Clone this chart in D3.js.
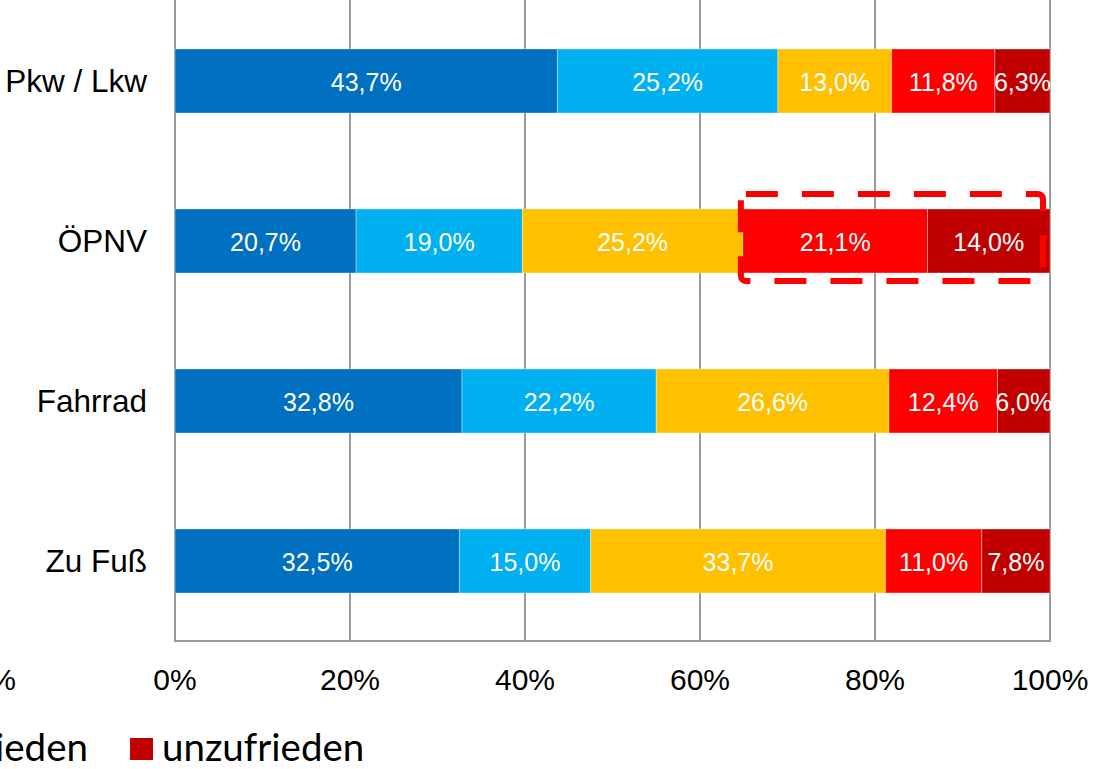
<!DOCTYPE html>
<html>
<head>
<meta charset="utf-8">
<script src="https://cdn.jsdelivr.net/npm/d3@7"></script>
<style>
body { margin: 0; background: #fff; }
svg { display: block; }
</style>
</head>
<body>
<svg id="chart" width="1096" height="769"></svg>
<script>
var svg = d3.select('#chart');

var Modes = ["Pkw / Lkw", "ÖPNV", "Fahrrad", "Zu Fuß"];

var Series = ["sehr zufrieden", "zufrieden", "teils/teils", "eher unzufrieden", "unzufrieden"];

var SehrZufrieden   = [43.7, 20.7, 32.8, 32.5];
var Zufrieden       = [25.2, 19.0, 22.2, 15.0];
var TeilsTeils      = [13.0, 25.2, 26.6, 33.7];
var EherUnzufrieden = [11.8, 21.1, 12.4, 11.0];
var Unzufrieden     = [ 6.3, 14.0,  6.0,  7.8];

var Ticks = [0, 20, 40, 60, 80, 100];

var colors = ["#0070C0", "#00B0F0", "#FFC000", "#FF0000", "#C00000"];

var x = d3.scaleLinear().domain([0, 100]).range([175, 1050]);
var y = d3.scaleBand().domain(Modes).range([1, 641]).paddingInner(0.6).paddingOuter(0.3);

// rows for stacking
var rows = Modes.map(function(m, i){
	return {
		mode: m,
		"sehr zufrieden": SehrZufrieden[i],
		"zufrieden": Zufrieden[i],
		"teils/teils": TeilsTeils[i],
		"eher unzufrieden": EherUnzufrieden[i],
		"unzufrieden": Unzufrieden[i]
	};
});
var stacked = d3.stack().keys(Series)(rows);

// gridlines
svg.selectAll("line.grid")
	.data(Ticks)
	.enter()
	.append("line")
	.attr("x1", function(d){return x(d);})
	.attr("x2", function(d){return x(d);})
	.attr("y1", 0)
	.attr("y2", 641)
	.attr("stroke", "#9a9a9a")
	.attr("stroke-width", 2);

svg.append("line")
	.attr("x1", x(0) - 1).attr("x2", x(100) + 1)
	.attr("y1", 641).attr("y2", 641)
	.attr("stroke", "#9a9a9a")
	.attr("stroke-width", 2);

// bars
var layer = svg.selectAll("g.layer")
	.data(stacked)
	.enter()
	.append("g")
	.attr("fill", function(d, i){return colors[i];});

layer.selectAll("rect")
	.data(function(d){return d;})
	.enter()
	.append("rect")
	.attr("x", function(d){return x(d[0]);})
	.attr("y", function(d){return y(d.data.mode);})
	.attr("width", function(d){return x(d[1]) - x(d[0]);})
	.attr("height", y.bandwidth())
	.attr("stroke", "rgba(255,255,255,0.35)")
	.attr("stroke-width", 1);

layer.selectAll("text")
	.data(function(d){return d;})
	.enter()
	.append("text")
	.attr("x", function(d){return (x(d[0]) + x(d[1])) / 2;})
	.attr("y", function(d){return y(d.data.mode) + y.bandwidth() / 2 + 10;})
	.attr("text-anchor", "middle")
	.attr("fill", "#fff")
	.style("font-family", "'Liberation Sans', Arial, sans-serif")
	.style("font-size", "25px")
	.text(function(d){return (d[1] - d[0]).toFixed(1).replace(".", ",") + "%";});

// category labels
svg.selectAll("text.cat")
	.data(Modes)
	.enter()
	.append("text")
	.attr("x", 147)
	.attr("y", function(d){return y(d) + y.bandwidth() / 2 + 11;})
	.attr("text-anchor", "end")
	.attr("fill", "#000")
	.style("font-family", "'Liberation Sans', Arial, sans-serif")
	.style("font-size", "31.5px")
	.text(function(d){return d;});

// tick labels
svg.selectAll("text.tick")
	.data(Ticks)
	.enter()
	.append("text")
	.attr("x", function(d){return x(d);})
	.attr("y", 690)
	.attr("text-anchor", "middle")
	.attr("fill", "#000")
	.style("font-family", "'Liberation Sans', Arial, sans-serif")
	.style("font-size", "30px")
	.text(function(d){return d + "%";});

// cut-off tick from the neighbouring chart
svg.append("text")
	.attr("x", 16).attr("y", 690)
	.attr("text-anchor", "end")
	.style("font-family", "'Liberation Sans', Arial, sans-serif")
	.style("font-size", "30px")
	.text("100%");

// highlight box round the unhappy part of ÖPNV
var oe = stacked[3][1];
svg.append("rect")
	.attr("x", x(oe[0]) - 2)
	.attr("y", y("ÖPNV") - 15)
	.attr("width", x(100) - x(oe[0]) - 5)
	.attr("height", y.bandwidth() + 23)
	.attr("rx", 5)
	.attr("fill", "none")
	.attr("stroke", "#FF0000")
	.attr("stroke-width", 6)
	.attr("stroke-dasharray", "32,24");

// legend (only the tail is visible)
svg.append("text")
	.attr("x", 88).attr("y", 761)
	.attr("text-anchor", "end")
	.style("font-family", "Lato, 'Open Sans', sans-serif")
	.style("font-size", "38.5px")
	.text(Series[3]);

svg.append("rect")
	.attr("x", 130).attr("y", 738)
	.attr("width", 23).attr("height", 22)
	.attr("fill", colors[4]);

svg.append("text")
	.attr("x", 162).attr("y", 761)
	.style("font-family", "Lato, 'Open Sans', sans-serif")
	.style("font-size", "38.5px")
	.text(Series[4]);
</script>
</body>
</html>
